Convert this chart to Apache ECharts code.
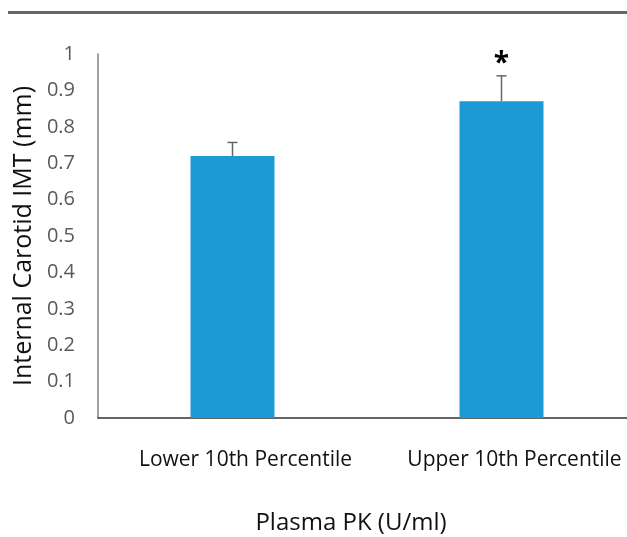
<!DOCTYPE html>
<html><head><meta charset="utf-8">
<script src="https://cdn.jsdelivr.net/npm/echarts@6/dist/echarts.min.js"></script>
<style>html,body{margin:0;padding:0;background:#fff}#c{width:627px;height:537px}</style>
</head><body><div id="c"></div>
<script>
var categories = ['Lower 10th Percentile', 'Upper 10th Percentile'];
var means = [0.72, 0.87];
var errorTops = [0.757, 0.94];
var sigMarks = ['', '*'];
var yTicks = [0, 0.1, 0.2, 0.3, 0.4, 0.5, 0.6, 0.7, 0.8, 0.9, 1];

var FONT = '"Open Sans"';
var chart = echarts.init(document.getElementById('c'), null, {renderer: 'canvas'});
chart.setOption({
  animation: false,
  backgroundColor: '#fff',
  grid: {left: 98, top: 54, height: 364, right: -9, containLabel: false, outerBoundsMode: 'none'},
  graphic: [{type: 'line', shape: {x1: 8, y1: 12.5, x2: 627, y2: 12.5}, style: {stroke: '#666', lineWidth: 3}}],
  xAxis: {
    type: 'category', data: categories,
    axisLine: {lineStyle: {color: '#333', width: 1.5}},
    axisTick: {show: false},
    axisLabel: {interval: 0, hideOverlap: false, fontFamily: FONT, fontSize: 21, color: '#111', margin: 32, padding: [0, 0, 0, 26]},
    name: 'Plasma PK (U/ml)', nameLocation: 'middle', nameGap: 93,
    nameTextStyle: {fontFamily: FONT, fontSize: 24, color: '#111', padding: [0, 32, 0, 0]}
  },
  yAxis: {
    type: 'value', min: 0, max: 1, interval: 0.1,
    axisLine: {show: true, lineStyle: {color: '#808080', width: 1.5}},
    axisTick: {show: false},
    splitLine: {show: false},
    axisLabel: {fontFamily: FONT, fontSize: 20, color: '#595959', margin: 23,
      formatter: function (v) { var r = Math.round(v * 10) / 10; return yTicks.indexOf(r) >= 0 ? String(r) : ''; }},
    name: 'Internal Carotid IMT (mm)', nameLocation: 'middle', nameGap: 58,
    nameTextStyle: {fontFamily: FONT, fontSize: 25, color: '#111'}
  },
  series: [{
    type: 'bar', data: means, barWidth: 84,
    itemStyle: {color: '#1c9ad6'}
  }, {
    type: 'custom',
    data: categories.map(function (c, i) { return [i, means[i], errorTops[i]]; }),
    renderItem: function (params, api) {
      var base = api.coord([api.value(0), api.value(1)]);
      var top = api.coord([api.value(0), api.value(2)]);
      var children = [
        {type: 'line', shape: {x1: base[0], y1: base[1], x2: top[0], y2: top[1]}, style: {stroke: '#666', lineWidth: 1.5}},
        {type: 'line', shape: {x1: top[0] - 5, y1: top[1], x2: top[0] + 5, y2: top[1]}, style: {stroke: '#666', lineWidth: 1.5}}
      ];
      var mark = sigMarks[params.dataIndex];
      if (mark) {
        children.push({type: 'text', x: top[0], y: top[1] - 12, style: {text: mark, fill: '#000', font: 'bold 28px ' + FONT, align: 'center', verticalAlign: 'middle'}});
      }
      return {type: 'group', children: children};
    },
    z: 5
  }]
});
</script></body></html>
